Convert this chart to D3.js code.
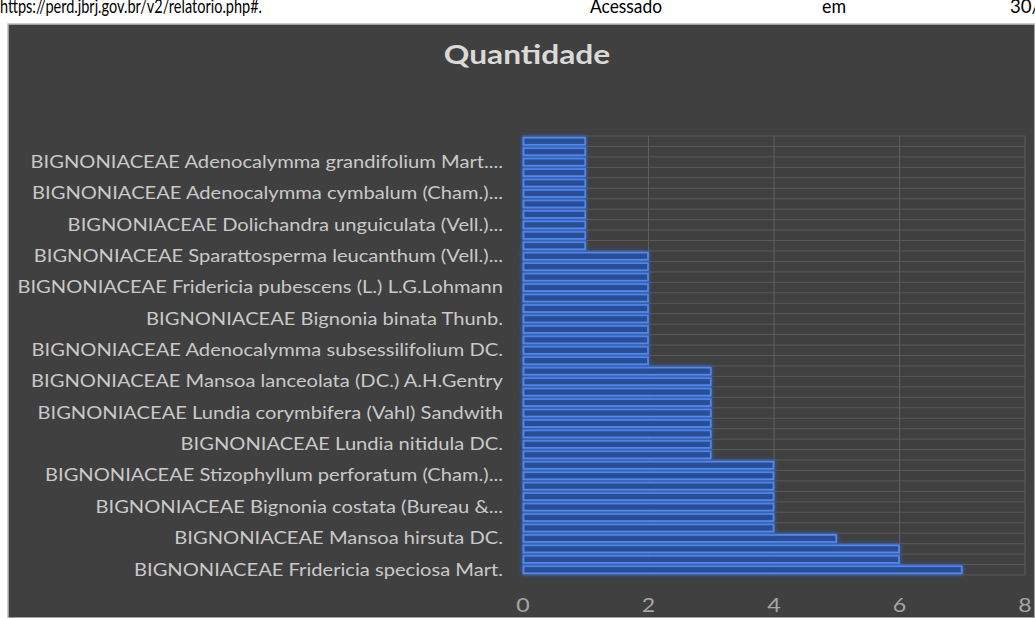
<!DOCTYPE html>
<html>
<head>
<meta charset="utf-8">
<script src="https://cdn.jsdelivr.net/npm/d3@7"></script>
<style>
  body { margin: 0; background: #fff; }
  svg { display: block; }
</style>
</head>
<body>
<svg id="svg1"></svg>
<script>
// values, bottom bar first (Excel order)
var values = [7, 6, 6, 5,
              4, 4, 4, 4, 4, 4, 4,
              3, 3, 3, 3, 3, 3, 3, 3, 3,
              2, 2, 2, 2, 2, 2, 2, 2, 2, 2, 2,
              1, 1, 1, 1, 1, 1, 1, 1, 1, 1, 1];
// only every third category label is shown on the chart
var labelIndex = [0, 3, 6, 9, 12, 15, 18, 21, 24, 27, 30, 33, 36, 39];
var labels = ['BIGNONIACEAE Fridericia speciosa Mart.',
              'BIGNONIACEAE Mansoa hirsuta DC.',
              'BIGNONIACEAE Bignonia costata (Bureau &...',
              'BIGNONIACEAE Stizophyllum perforatum (Cham.)...',
              'BIGNONIACEAE Lundia nitidula DC.',
              'BIGNONIACEAE Lundia corymbifera (Vahl) Sandwith',
              'BIGNONIACEAE Mansoa lanceolata (DC.) A.H.Gentry',
              'BIGNONIACEAE Adenocalymma subsessilifolium DC.',
              'BIGNONIACEAE Bignonia binata Thunb.',
              'BIGNONIACEAE Fridericia pubescens (L.) L.G.Lohmann',
              'BIGNONIACEAE Sparattosperma leucanthum (Vell.)...',
              'BIGNONIACEAE Dolichandra unguiculata (Vell.)...',
              'BIGNONIACEAE Adenocalymma cymbalum (Cham.)...',
              'BIGNONIACEAE Adenocalymma grandifolium Mart....'];
var xTicks = [0, 2, 4, 6, 8];
var title = 'Quantidade';
var pageWords = ['https://perd.jbrj.gov.br/v2/relatorio.php#.', 'Acessado', 'em', '30/'];

var width = 1035, height = 618;
var pageWordX = [0, 590, 822, 1010];
var pageWordW = [262, 72, 24, 30];
var stretch = 1.22;   // the picture is wider than the font

var svg = d3.select('#svg1').attr('width', width).attr('height', height);

var defs = svg.append('defs');
var glow = defs.append('filter').attr('id', 'glow')
    .attr('x', '-5%').attr('y', '-150%').attr('width', '110%').attr('height', '400%');
glow.append('feGaussianBlur').attr('in', 'SourceAlpha').attr('stdDeviation', 2.6).attr('result', 'blur');
glow.append('feFlood').attr('flood-color', '#2a6ae6').attr('flood-opacity', 0.9);
glow.append('feComposite').attr('in2', 'blur').attr('operator', 'in').attr('result', 'glowc');
var merge = glow.append('feMerge');
merge.append('feMergeNode').attr('in', 'glowc');
merge.append('feMergeNode').attr('in', 'SourceGraphic');

function stretchText(sel, k) {
    sel.each(function() {
        var w = this.getComputedTextLength();
        d3.select(this).attr('textLength', w * k).attr('lengthAdjust', 'spacingAndGlyphs');
    });
}

// page text above the chart (cropped at the top)
svg.selectAll('text.pageword').data(pageWords).enter().append('text')
    .attr('class', 'pageword')
    .attr('x', function(d, i) { return pageWordX[i]; })
    .attr('y', 13)
    .attr('textLength', function(d, i) { return pageWordW[i]; })
    .attr('lengthAdjust', 'spacingAndGlyphs')
    .style('font-family', 'Lato, sans-serif')
    .style('font-size', '20px')
    .attr('fill', '#000')
    .text(function(d) { return d; });

// chart background
svg.append('rect')
    .attr('x', 8).attr('y', 24).attr('width', width - 8).attr('height', height - 24)
    .attr('fill', '#404040')
    .attr('stroke', '#bfbfbf').attr('stroke-width', 1.5);

svg.append('text')
    .attr('x', 527).attr('y', 64)
    .attr('text-anchor', 'middle')
    .style('font-family', 'Lato, sans-serif')
    .style('font-weight', 'bold')
    .style('font-size', '26px')
    .attr('fill', '#d9d9d9')
    .text(title)
    .call(stretchText, stretch);

var plotLeft = 523, plotRight = 1025, plotTop = 136, plotBottom = 575;

var x = d3.scaleLinear().domain([0, 8]).range([plotLeft, plotRight]);
var y = d3.scaleBand().domain(d3.range(values.length)).range([plotBottom, plotTop]).paddingInner(0.32).paddingOuter(0.16);
var yLines = d3.scaleBand().domain(d3.range(values.length)).range([plotBottom, plotTop]);

var plot = svg.append('g');

// horizontal category gridlines
plot.selectAll('line.h').data(d3.range(values.length + 1)).enter().append('line')
    .attr('class', 'h')
    .attr('x1', plotLeft).attr('x2', plotRight)
    .attr('y1', function(i) { return i < values.length ? yLines(i) + yLines.bandwidth() : plotTop; })
    .attr('y2', function(i) { return i < values.length ? yLines(i) + yLines.bandwidth() : plotTop; })
    .attr('stroke', '#595959').attr('stroke-width', 1);

// vertical value gridlines
plot.selectAll('line.v').data(xTicks).enter().append('line')
    .attr('class', 'v')
    .attr('x1', function(d) { return x(d); }).attr('x2', function(d) { return x(d); })
    .attr('y1', plotTop).attr('y2', plotBottom)
    .attr('stroke', '#5e5e5e').attr('stroke-width', 1);

// bars
plot.selectAll('rect.bar').data(values).enter().append('rect')
    .attr('class', 'bar')
    .attr('x', x(0) + 0.5)
    .attr('y', function(d, i) { return y(i); })
    .attr('width', function(d) { return x(d) - x(0) - 1; })
    .attr('height', y.bandwidth())
    .attr('fill', '#2b4d92')
    .attr('stroke', '#4f88f0')
    .attr('stroke-width', 1.8)
    .attr('filter', 'url(#glow)');

// category labels
svg.selectAll('text.cat').data(labelIndex).enter().append('text')
    .attr('class', 'cat')
    .attr('x', 503)
    .attr('y', function(d) { return y(d) + y.bandwidth() / 2; })
    .attr('dy', '0.35em')
    .attr('text-anchor', 'end')
    .style('font-family', 'Lato, sans-serif')
    .style('font-size', '16.5px')
    .attr('fill', '#c9c9c9')
    .text(function(d, i) { return labels[i]; })
    .call(stretchText, stretch);

// value axis labels
svg.selectAll('text.tick').data(xTicks).enter().append('text')
    .attr('class', 'tick')
    .attr('x', function(d) { return x(d); })
    .attr('y', 612)
    .attr('text-anchor', 'middle')
    .style('font-family', 'Lato, sans-serif')
    .style('font-size', '19px')
    .attr('fill', '#a6a6a6')
    .text(function(d) { return d; })
    .call(stretchText, stretch);
</script>
</body>
</html>
